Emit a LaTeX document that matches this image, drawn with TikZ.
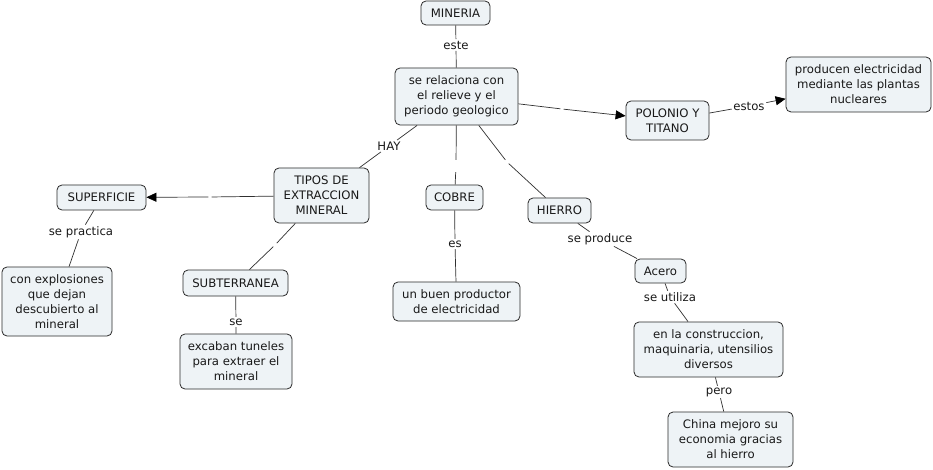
\documentclass[tikz,border=0pt]{standalone}
\usepackage{fontspec}
\setmainfont{DejaVu Sans}
\usetikzlibrary{arrows.meta}
\definecolor{boxfill}{HTML}{EEF3F6}
\definecolor{boxline}{HTML}{2A2A2A}
\definecolor{linkcol}{HTML}{303030}
\tikzset{
  concept/.style 2 args={draw=boxline, fill=boxfill, rounded corners=5pt, line width=0.8pt,
    align=center, inner sep=1pt, minimum width=#1pt, minimum height=#2pt,
    font=\fontsize{11.7}{15}\selectfont, text=black!90},
  linklabel/.style={inner sep=1.5pt, font=\fontsize{11.7}{15}\selectfont, text=black!90},
  gapnode/.style={inner sep=0pt, minimum width=3pt, minimum height=12pt},
  conn/.style={draw=linkcol, line width=0.7pt},
  arr/.style={conn, -{Triangle[length=10pt,width=9pt,color=black]}}
}
\begin{document}
\begin{tikzpicture}[x=1pt,y=-1pt]
\fill[white] (0,0) rectangle (933,470);
\useasboundingbox (0,0) rectangle (933,470);

% concepts
\node[concept={69}{24}] (min) at (455.5,13) {MINERIA};
\node[concept={123}{57}] (rel) at (456.5,96.5) {se relaciona con\\el relieve y el\\periodo geologico};
\node[concept={83}{39}] (pol) at (667.5,120.5) {POLONIO Y\\TITANO};
\node[concept={145}{55}] (prod) at (858.5,84.5) {producen electricidad\\mediante las plantas\\nucleares};
\node[concept={95}{55}] (tipos) at (321.5,195.5) {TIPOS DE\\EXTRACCION\\MINERAL};
\node[concept={89}{25}] (sup) at (101.5,197.5) {SUPERFICIE};
\node[concept={110}{69}] (expl) at (57,301.5) {con explosiones\\que dejan\\descubierto al\\mineral};
\node[concept={105}{26}] (sub) at (235.5,283) {SUBTERRANEA};
\node[concept={112}{55}] (exc) at (236,361.5) {excaban tuneles\\para extraer el\\mineral};
\node[concept={57}{25}] (cob) at (454.5,197.5) {COBRE};
\node[concept={127}{39}] (buen) at (456.5,301.5) {un buen productor\\de electricidad};
\node[concept={63}{25}] (hie) at (559.5,210.5) {HIERRO};
\node[concept={51}{24}] (ace) at (660.5,271) {Acero};
\node[concept={149}{55}] (cons) at (708.5,349.5) {en la construccion,\\maquinaria, utensilios\\diversos};
\node[concept={125}{55}] (chi) at (730.5,439.5) {China mejoro su\\economia gracias\\al hierro};

% link labels
\node[linklabel] (le) at (456,45) {este};
\node[linklabel] (lhay) at (389,146) {HAY};
\node[linklabel] (lestos) at (749,106) {estos};
\node[linklabel] (lsp) at (81,232) {se practica};
\node[linklabel] (lse) at (236,322) {se};
\node[linklabel] (les) at (455,244) {es};
\node[linklabel] (lprod) at (600,239) {se produce};
\node[linklabel] (lut) at (670,297) {se utiliza};
\node[linklabel] (lpero) at (719,392) {pero};

% empty link labels (gaps)
\node[gapnode] (g1) at (562,109) {};
\node[gapnode] (g2) at (210,197) {};
\node[gapnode] (g3) at (275,245) {};
\node[gapnode] (g4) at (456,166) {};
\node[gapnode] (g5) at (507,162) {};

% connectors
\draw[conn] (min) -- (le) -- (rel);
\draw[conn] (rel) -- (lhay) -- (tipos);
\draw[conn] (rel) -- (g1);
\draw[arr] (g1) -- (pol);
\draw[conn] (pol) -- (lestos);
\draw[arr] (lestos) -- (prod);
\draw[conn] (tipos) -- (g2);
\draw[arr] (g2) -- (sup);
\draw[conn] (tipos) -- (g3) -- (sub);
\draw[conn] (rel) -- (g4) -- (cob);
\draw[conn] (rel) -- (g5) -- (hie);
\draw[conn] (sup) -- (lsp) -- (expl);
\draw[conn] (sub) -- (lse) -- (exc);
\draw[conn] (cob) -- (les) -- (buen);
\draw[conn] (hie) -- (lprod) -- (ace);
\draw[conn] (ace) -- (lut) -- (cons);
\draw[conn] (cons) -- (lpero) -- (chi);
\end{tikzpicture}
\end{document}
